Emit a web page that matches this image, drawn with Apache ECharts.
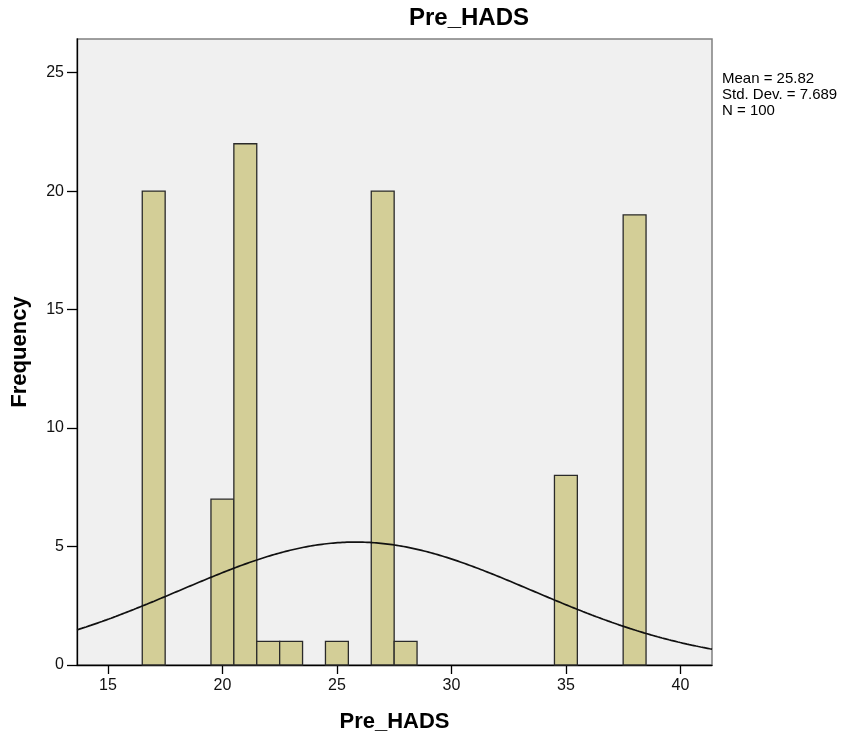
<!DOCTYPE html>
<html><head><meta charset="utf-8">
<script src="https://cdn.jsdelivr.net/npm/echarts@6/dist/echarts.min.js"></script>
<style>html,body{margin:0;padding:0;background:#fff}#c{width:851px;height:738px}</style>
</head><body><div id="c"></div>
<script>
// Histogram bins (centres, width 1) and counts
const binCenters = [17, 20, 21, 22, 23, 25, 27, 28, 35, 38];
const binCounts  = [20, 7, 22, 1, 1, 1, 20, 1, 8, 19];
const xTicks = [15, 20, 25, 30, 35, 40];
const yTicks = [0, 5, 10, 15, 20, 25];
const statsLines = ['Mean = 25.82', 'Std. Dev. = 7.689', 'N = 100'];
const mean = 25.82, sd = 7.689, n = 100, binWidth = 1;

const xMin = 13.65, xMax = 41.38, yMax = 26.42;

// fitted normal curve (from the displayed mean / sd / N)
const curve = [];
for (let i = 0; i <= 280; i++) {
  const x = xMin + (xMax - xMin) * i / 280;
  const z = (x - mean) / sd;
  curve.push([x, n * binWidth / (sd * Math.sqrt(2 * Math.PI)) * Math.exp(-0.5 * z * z)]);
}

const font = '"Liberation Sans", Arial, sans-serif';
const chart = echarts.init(document.getElementById('c'), null, {renderer: 'canvas'});
chart.setOption({
  animation: false,
  backgroundColor: '#fff',
  grid: {left: 77, right: 139, top: 39, bottom: 71, show: true,
    backgroundColor: '#f0f0f0', borderColor: '#808080', borderWidth: 1.5},
  xAxis: {type: 'value', min: xMin, max: xMax,
    name: 'Pre_HADS', nameLocation: 'middle', nameGap: 46,
    nameTextStyle: {fontFamily: font, fontSize: 22, fontWeight: 'bold', color: '#000'},
    axisLine: {show: true, lineStyle: {color: '#000', width: 1.3}},
    axisTick: {show: true, length: 9, customValues: xTicks, lineStyle: {color: '#000', width: 1.3}},
    axisLabel: {customValues: xTicks, fontFamily: font, fontSize: 16, color: '#111', margin: 13},
    splitLine: {show: false}},
  yAxis: {type: 'value', min: 0, max: yMax,
    name: 'Frequency', nameLocation: 'middle', nameGap: 46, nameRotate: 90,
    nameTextStyle: {fontFamily: font, fontSize: 22, fontWeight: 'bold', color: '#000'},
    axisLine: {show: true, lineStyle: {color: '#000', width: 1.3}},
    axisTick: {show: true, length: 10, customValues: yTicks, lineStyle: {color: '#000', width: 1.3}},
    axisLabel: {customValues: yTicks, fontFamily: font, fontSize: 16, color: '#111', margin: 13},
    splitLine: {show: false}},
  series: [
    {type: 'custom', data: binCenters.map((c, i) => [c, binCounts[i]]),
      renderItem: function (params, api) {
        const c = api.value(0), v = api.value(1);
        const p0 = api.coord([c - binWidth / 2, v]);
        const p1 = api.coord([c + binWidth / 2, 0]);
        return {type: 'rect', shape: {x: p0[0], y: p0[1], width: p1[0] - p0[0], height: p1[1] - p0[1]},
          style: {fill: '#d3ce97', stroke: '#2a2a2a', lineWidth: 1.3}};
      }, z: 2},
    {type: 'line', data: curve, showSymbol: false, smooth: false, clip: true,
      lineStyle: {color: '#111', width: 1.7}, z: 3}
  ],
  graphic: [
    {type: 'text', x: 469, y: 6,
      style: {text: 'Pre_HADS', fontFamily: font, fontSize: 24, fontWeight: 'bold', fill: '#000', align: 'center'}}
  ].concat(statsLines.map((t, i) => ({type: 'text', left: 722, top: 71 + i * 16,
    style: {text: t, fontFamily: font, fontSize: 15, fill: '#000'}})))
});
</script></body></html>
